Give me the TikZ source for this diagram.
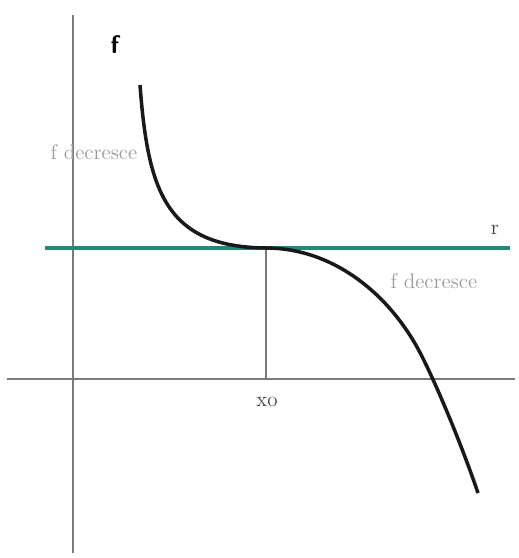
\documentclass[tikz,border=0pt]{standalone}
\usetikzlibrary{positioning}
\definecolor{caxis}{HTML}{7A7A7A}
\definecolor{cteal}{HTML}{1F8A78}
\definecolor{clabel}{HTML}{9A9A9A}
\tikzset{
  every picture/.style={line width=1.1pt},
  axis/.style={draw=caxis, line width=1.3pt},
  tangent/.style={draw=cteal, line width=1.8pt},
  curve/.style={draw=black!90, line width=2pt},
  note/.style={font=\large, text=clabel, inner sep=1pt},
}
\begin{document}
\begin{tikzpicture}[x=0.02cm, y=-0.02cm]
  \useasboundingbox (0, 0) rectangle (518, 558);
  % axes
  \coordinate (ytop) at (73, 15);
  \coordinate (ybot) at (73, 553);
  \coordinate (xl) at (7, 379);
  \coordinate (xr) at (515, 379);
  \draw[axis] (ytop) -- (ybot);
  \draw[axis] (xl) -- (xr);
  % tangent r and x0
  \coordinate (rl) at (45, 248);
  \coordinate (rr) at (510, 248);
  \coordinate (p0) at (266, 248);
  \coordinate (q0) at (266, 379);
  \draw[axis, line width=1.1pt] (p0) -- (q0);
  \draw[tangent] (rl) -- (rr);
  \node[font=\large, text=black!75, inner sep=1pt] (rlab) at (495, 230) {r};
  \node[font=\large, text=black!75, inner sep=1pt] (x0) at (267, 402) {xo};
  % curve
  \coordinate (c0) at (140, 85);
  \coordinate (c2) at (417, 347);
  \coordinate (c3) at (478, 493);
  \draw[curve] (c0) .. controls (148, 190) and (165, 247) .. (p0)
    .. controls (330, 248) and (385, 290) .. (c2)
    .. controls (432, 374) and (460, 440) .. (c3);
  % labels
  \node[font=\sffamily\bfseries\Large, inner sep=1pt] (flab) at (115, 45) {f};
  \node[note] (decl) at (94, 152) {f decresce};
  \node[note] (decr) at (434, 281) {f decresce};
\end{tikzpicture}
\end{document}
